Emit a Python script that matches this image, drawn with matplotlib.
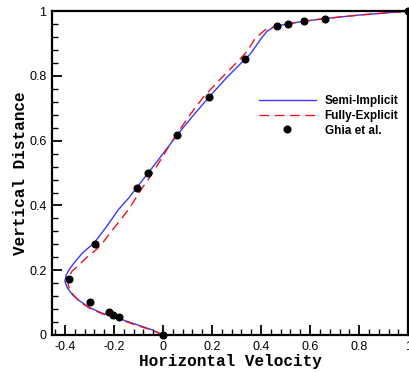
import matplotlib
matplotlib.use("Agg")
import matplotlib.pyplot as plt
from matplotlib.ticker import MultipleLocator

# Semi-Implicit (blue solid)
semi_x = [0.0, -0.045, -0.10, -0.15, -0.20, -0.25, -0.30, -0.34, -0.37, -0.39, -0.40,
          -0.395, -0.38, -0.36, -0.33, -0.30, -0.28, -0.23, -0.181, -0.14, -0.106,
          -0.061, -0.018, 0.03, 0.058, 0.12, 0.188, 0.26, 0.335, 0.355, 0.375, 0.396,
          0.423, 0.45, 0.47, 0.511, 0.575, 0.659, 0.80, 1.0]
semi_y = [0.0, 0.016, 0.030, 0.043, 0.056, 0.068, 0.085, 0.105, 0.125, 0.145, 0.165,
          0.185, 0.205, 0.225, 0.252, 0.272, 0.285, 0.335, 0.388, 0.423, 0.456,
          0.500, 0.542, 0.590, 0.618, 0.675, 0.735, 0.795, 0.852, 0.867, 0.888, 0.911,
          0.937, 0.950, 0.955, 0.961, 0.969, 0.977, 0.988, 1.0]

# Fully-Explicit (red dashed)
full_x = [0.0, -0.045, -0.10, -0.15, -0.20, -0.25, -0.30, -0.34, -0.365, -0.383, -0.389,
          -0.385, -0.37, -0.345, -0.31, -0.27, -0.249, -0.20, -0.14, -0.085, -0.06,
          -0.04, -0.01, 0.03, 0.055, 0.10, 0.165, 0.24, 0.314, 0.342, 0.376, 0.416,
          0.45, 0.47, 0.511, 0.575, 0.659, 0.80, 1.0]
full_y = [0.0, 0.015, 0.028, 0.041, 0.054, 0.066, 0.083, 0.103, 0.123, 0.145, 0.165,
          0.180, 0.198, 0.215, 0.240, 0.265, 0.282, 0.330, 0.388, 0.454, 0.480,
          0.505, 0.540, 0.590, 0.618, 0.670, 0.735, 0.795, 0.852, 0.875, 0.916, 0.942,
          0.951, 0.955, 0.961, 0.969, 0.977, 0.988, 1.0]

# Ghia et al. (Re = 1000)
ghia_x = [1.0, 0.65928, 0.57492, 0.51117, 0.46604, 0.33304, 0.18719, 0.05702, -0.06080,
          -0.10648, -0.27805, -0.38289, -0.29730, -0.22220, -0.20196, -0.18109, 0.0]
ghia_y = [1.0, 0.9766, 0.9688, 0.9609, 0.9531, 0.8516, 0.7344, 0.6172, 0.5,
          0.4531, 0.2813, 0.1719, 0.1016, 0.0703, 0.0625, 0.0547, 0.0]

xticks = [-0.4, -0.2, 0, 0.2, 0.4, 0.6, 0.8, 1]
xtick_labels = ["-0.4", "-0.2", "0", "0.2", "0.4", "0.6", "0.8", "1"]
yticks = [0, 0.2, 0.4, 0.6, 0.8, 1]
ytick_labels = ["0", "0.2", "0.4", "0.6", "0.8", "1"]

fig = plt.figure(figsize=(4.09, 3.72), dpi=100)
ax = fig.add_axes([0.127, 0.0995, 0.871, 0.8705])

ax.plot(semi_x, semi_y, color="#3a3aff", lw=1.0, label="Semi-Implicit")
ax.plot(full_x, full_y, color="#e8141e", lw=1.0, dashes=(7, 4), label="Fully-Explicit")
ax.plot(ghia_x, ghia_y, "o", color="black", ms=4.8, lw=0, label="Ghia et al.", clip_on=False)

ax.set_xlim(-0.453, 1.0)
ax.set_ylim(0, 1)
ax.set_xticks(xticks)
ax.set_xticklabels(xtick_labels, fontfamily="Liberation Sans", fontsize=9)
ax.set_yticks(yticks)
ax.set_yticklabels(ytick_labels, fontfamily="Liberation Sans", fontsize=9)
ax.xaxis.set_minor_locator(MultipleLocator(0.04))
ax.yaxis.set_minor_locator(MultipleLocator(0.04))
ax.tick_params(which="major", direction="in", length=7, width=1.3, top=False, right=False, pad=4)
ax.tick_params(which="minor", direction="in", length=4, width=1.0, top=False, right=False)
for s in ax.spines.values():
    s.set_linewidth(1.6)

ax.set_xlabel("Horizontal Velocity", fontfamily="Liberation Mono", fontweight="bold",
              fontsize=11.5, labelpad=1)
ax.set_ylabel("Vertical Distance", fontfamily="Liberation Mono", fontweight="bold",
              fontsize=11.5, labelpad=1)

leg = ax.legend(loc="upper left", bbox_to_anchor=(0.565, 0.758), frameon=False,
                prop={"family": "Liberation Sans", "weight": "bold", "size": 8.5},
                handlelength=4.8, handletextpad=0.75, labelspacing=0.22, borderpad=0)

fig.savefig("out.png", dpi=100)
